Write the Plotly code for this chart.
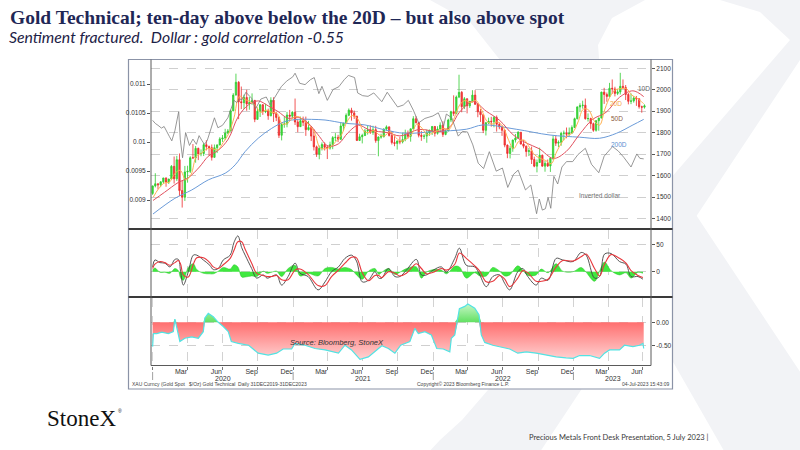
import pandas as pd
import plotly.graph_objects as go

W, H = 800, 450

# ---------------- DATA ----------------
# Weekly gold candles (week starting 2019-12-30 ... 2023-07-03), $/oz
gold_open = [
    1517, 1552, 1562, 1557, 1571, 1589, 1570, 1584, 1643, 1585, 1674, 1530, 1499, 1617, 1620, 1683, 1682, 1727,
    1701, 1703, 1744, 1735, 1730, 1685, 1730, 1743, 1771, 1775, 1798, 1808, 1902, 1975, 2035, 1944, 1940, 1964,
    1934, 1941, 1950, 1862, 1900, 1930, 1899, 1902, 1879, 1951, 1889, 1871, 1788, 1839, 1840, 1882, 1877,
    1895, 1850, 1828, 1856, 1848, 1814, 1824, 1784, 1734, 1700, 1727, 1745, 1732, 1728, 1744, 1777, 1778,
    1769, 1831, 1844, 1881, 1905, 1892, 1877, 1764, 1781, 1787, 1808, 1812, 1802, 1814, 1763, 1780, 1781,
    1817, 1827, 1787, 1754, 1750, 1761, 1757, 1768, 1792, 1783, 1818, 1865, 1846, 1788, 1783, 1784, 1799, 1809,
    1829, 1797, 1817, 1835, 1792, 1808, 1859, 1898, 1889, 1966, 1988, 1921, 1958, 1925, 1946, 1975, 1932,
    1897, 1884, 1811, 1846, 1853, 1851, 1871, 1839, 1827, 1811, 1742, 1703, 1727, 1766, 1775, 1802, 1747,
    1737, 1712, 1716, 1675, 1644, 1661, 1695, 1644, 1657, 1645, 1681, 1771, 1751, 1755, 1797, 1798, 1793, 1798,
    1824, 1865, 1920, 1926, 1928, 1865, 1866, 1842, 1811, 1856, 1868, 1989, 1978, 1969, 2007, 2004, 1983,
    1990, 2016, 2011, 1978, 1946, 1948, 1961, 1958, 1921, 1919]
gold_high = [
    1553, 1611, 1563, 1573, 1589, 1591, 1585, 1649, 1689, 1692, 1703, 1575, 1645, 1646, 1690, 1747, 1738, 1730,
    1722, 1751, 1765, 1740, 1745, 1745, 1745, 1779, 1789, 1818, 1817, 1907, 1984, 2075, 2040, 2015, 1977, 2000,
    1966, 1983, 1953, 1917, 1933, 1933, 1935, 1912, 1965, 1965, 1898, 1875, 1848, 1875, 1897, 1906, 1900,
    1959, 1864, 1875, 1875, 1875, 1855, 1828, 1816, 1740, 1740, 1755, 1755, 1740, 1758, 1784, 1798, 1790,
    1845, 1846, 1890, 1913, 1916, 1903, 1878, 1795, 1795, 1818, 1834, 1834, 1832, 1832, 1782, 1795, 1820,
    1834, 1829, 1808, 1787, 1764, 1781, 1801, 1814, 1810, 1818, 1877, 1877, 1849, 1808, 1793, 1814, 1815, 1831,
    1831, 1830, 1848, 1853, 1812, 1865, 1902, 1974, 1973, 2070, 1994, 1966, 1960, 1948, 1998, 1998, 1936,
    1910, 1886, 1850, 1870, 1874, 1877, 1880, 1848, 1833, 1814, 1745, 1739, 1767, 1794, 1807, 1803,
    1766, 1740, 1729, 1735, 1688, 1675, 1730, 1698, 1668, 1675, 1684, 1787, 1786, 1764, 1804, 1810, 1824, 1824,
    1834, 1870, 1922, 1937, 1949, 1959, 1890, 1870, 1847, 1858, 1870, 1991, 2009, 1987, 2032, 2048, 2014,
    2003, 2079, 2048, 2022, 1985, 1983, 1970, 1971, 1960, 1926, 1932]
gold_low = [
    1510, 1545, 1536, 1546, 1563, 1548, 1561, 1580, 1563, 1575, 1504, 1451, 1482, 1567, 1612, 1680, 1660, 1672,
    1690, 1691, 1717, 1693, 1670, 1683, 1705, 1741, 1757, 1765, 1793, 1806, 1900, 1974, 1863, 1910, 1910, 1902,
    1907, 1930, 1849, 1860, 1873, 1883, 1891, 1860, 1876, 1850, 1854, 1775, 1764, 1823, 1825, 1855, 1866,
    1836, 1802, 1827, 1831, 1785, 1810, 1761, 1717, 1687, 1676, 1717, 1717, 1677, 1721, 1723, 1760, 1756,
    1767, 1808, 1842, 1877, 1856, 1864, 1761, 1761, 1750, 1784, 1791, 1794, 1790, 1753, 1690, 1772, 1778,
    1809, 1782, 1745, 1737, 1721, 1746, 1750, 1760, 1772, 1758, 1816, 1844, 1778, 1762, 1770, 1753, 1785, 1789,
    1782, 1791, 1805, 1780, 1788, 1807, 1849, 1878, 1886, 1961, 1895, 1910, 1890, 1915, 1940, 1930, 1872,
    1850, 1798, 1787, 1840, 1828, 1825, 1805, 1816, 1785, 1732, 1681, 1680, 1711, 1754, 1771, 1745,
    1727, 1688, 1691, 1654, 1639, 1615, 1660, 1642, 1618, 1640, 1617, 1672, 1738, 1733, 1739, 1765, 1774, 1785,
    1795, 1822, 1862, 1896, 1912, 1861, 1852, 1818, 1804, 1805, 1809, 1867, 1934, 1944, 1968, 1981, 1969,
    1975, 1978, 2005, 1952, 1932, 1933, 1940, 1925, 1912, 1893, 1912]
gold_close = [
    1552, 1562, 1557, 1571, 1589, 1570, 1584, 1643, 1585, 1674, 1530, 1499, 1617, 1620, 1683, 1682, 1727, 1701,
    1703, 1744, 1735, 1730, 1685, 1730, 1743, 1771, 1775, 1798, 1808, 1902, 1975, 2035, 1944, 1940, 1964, 1934,
    1941, 1950, 1862, 1900, 1930, 1899, 1902, 1879, 1951, 1889, 1871, 1788, 1839, 1840, 1882, 1877, 1895,
    1850, 1828, 1856, 1848, 1814, 1824, 1784, 1734, 1700, 1727, 1745, 1732, 1728, 1744, 1777, 1778, 1769,
    1831, 1844, 1881, 1905, 1892, 1877, 1764, 1781, 1787, 1808, 1812, 1802, 1814, 1763, 1780, 1781, 1817,
    1827, 1787, 1754, 1750, 1761, 1757, 1768, 1792, 1783, 1818, 1865, 1846, 1788, 1783, 1784, 1799, 1809, 1829,
    1797, 1817, 1835, 1792, 1808, 1859, 1898, 1889, 1966, 1988, 1921, 1958, 1925, 1946, 1975, 1932, 1897,
    1884, 1811, 1846, 1853, 1851, 1871, 1839, 1827, 1811, 1742, 1703, 1727, 1766, 1775, 1802, 1747,
    1737, 1712, 1716, 1675, 1644, 1661, 1695, 1644, 1657, 1645, 1681, 1771, 1751, 1755, 1797, 1798, 1793, 1798,
    1824, 1865, 1920, 1926, 1928, 1865, 1866, 1842, 1811, 1856, 1868, 1989, 1978, 1969, 2007, 2004, 1983, 1990,
    2016, 2011, 1978, 1946, 1948, 1961, 1958, 1921, 1919, 1925]
candle_dates = pd.date_range("2020-01-01", periods=len(gold_close), freq="W-WED")

ma20_dates = [
    "2020-01-03", "2020-01-15", "2020-01-31", "2020-02-14", "2020-02-28", "2020-03-13", "2020-03-27", "2020-04-10",
    "2020-04-24", "2020-05-08", "2020-05-22", "2020-06-05", "2020-06-19", "2020-07-03", "2020-07-17", "2020-07-31",
    "2020-08-14", "2020-08-28", "2020-09-11", "2020-09-25", "2020-10-09", "2020-10-23", "2020-11-06", "2020-11-20",
    "2020-12-04", "2020-12-18", "2021-01-01", "2021-01-15", "2021-01-29", "2021-02-12", "2021-02-26", "2021-03-12",
    "2021-03-26", "2021-04-09", "2021-04-23", "2021-05-07", "2021-05-21", "2021-06-04", "2021-06-18", "2021-07-02",
    "2021-07-16", "2021-07-30", "2021-08-13", "2021-08-27", "2021-09-10", "2021-09-24", "2021-10-08", "2021-10-22",
    "2021-11-05", "2021-11-19", "2021-12-03", "2021-12-17", "2021-12-31", "2022-01-14", "2022-01-28", "2022-02-11",
    "2022-02-25", "2022-03-11", "2022-03-25", "2022-04-08", "2022-04-22", "2022-05-06", "2022-05-20", "2022-06-03",
    "2022-06-17", "2022-07-01", "2022-07-15", "2022-07-29", "2022-08-12", "2022-08-26", "2022-09-09", "2022-09-23",
    "2022-10-07", "2022-10-21", "2022-11-04", "2022-11-18", "2022-12-02", "2022-12-16", "2022-12-30", "2023-01-13",
    "2023-01-27", "2023-02-10", "2023-02-24", "2023-03-10", "2023-03-24", "2023-04-07", "2023-04-21", "2023-05-05",
    "2023-05-19", "2023-06-02", "2023-06-16", "2023-06-30", "2023-07-03"]
ma20 = [
    1500, 1535, 1565, 1570, 1610, 1625, 1580, 1605, 1690, 1705, 1725, 1725, 1720, 1755, 1795, 1870,
    1970, 1955, 1945, 1925, 1895, 1905, 1895, 1890, 1840, 1845, 1870, 1875, 1855, 1835, 1800, 1730,
    1725, 1735, 1760, 1790, 1850, 1880, 1865, 1810, 1800, 1810, 1790, 1785, 1805, 1780, 1760, 1770,
    1790, 1840, 1820, 1790, 1800, 1810, 1820, 1815, 1870, 1930, 1950, 1940, 1950, 1910, 1855, 1840,
    1850, 1830, 1770, 1725, 1760, 1765, 1730, 1695, 1680, 1670, 1655, 1710, 1755, 1785, 1800, 1850,
    1910, 1905, 1855, 1835, 1910, 1970, 2000, 2005, 2005, 1975, 1960, 1940, 1935]

ma50_dates = [
    "2020-01-02", "2020-02-01", "2020-03-08", "2020-04-03", "2020-05-02", "2020-05-25", "2020-06-20", "2020-07-16",
    "2020-08-11", "2020-09-07", "2020-10-02", "2020-10-28", "2020-11-23", "2020-12-19", "2021-01-14", "2021-02-09",
    "2021-03-07", "2021-04-02", "2021-04-29", "2021-05-24", "2021-06-20", "2021-07-16", "2021-08-11", "2021-09-06",
    "2021-10-06", "2021-11-26", "2022-01-17", "2022-02-15", "2022-03-10", "2022-04-14", "2022-05-19", "2022-06-23",
    "2022-07-28", "2022-08-31", "2022-10-04", "2022-11-10", "2022-12-13", "2023-01-16", "2023-02-20", "2023-03-27",
    "2023-05-01", "2023-06-05", "2023-07-03"]
ma50 = [
    1484, 1522, 1568, 1590, 1640, 1690, 1718, 1770, 1875, 1930, 1948, 1925, 1898, 1867, 1872, 1845,
    1790, 1738, 1748, 1800, 1835, 1815, 1805, 1800, 1785, 1815, 1805, 1830, 1895, 1945, 1900, 1857,
    1790, 1752, 1725, 1680, 1712, 1790, 1862, 1895, 1965, 1995, 1968]

ma200_dates = [
    "2020-01-02", "2020-02-28", "2020-04-12", "2020-05-25", "2020-07-08", "2020-08-03", "2020-08-29", "2020-10-02",
    "2020-11-06", "2020-12-11", "2021-01-15", "2021-02-18", "2021-03-25", "2021-05-16", "2021-07-07", "2021-08-28",
    "2021-10-19", "2022-01-01", "2022-03-28", "2022-05-10", "2022-08-05", "2022-11-01", "2023-01-17", "2023-03-10",
    "2023-04-23", "2023-06-05", "2023-07-03"]
ma200 = [
    1421, 1494, 1533, 1580, 1611, 1650, 1712, 1774, 1820, 1852, 1862, 1862, 1859, 1844, 1836, 1813,
    1797, 1805, 1816, 1836, 1816, 1789, 1779, 1774, 1797, 1836, 1862]

# Inverted dollar (1 / DXY), left axis
dollar_dates = [
    "2020-01-01", "2020-01-08", "2020-01-15", "2020-01-24", "2020-01-31", "2020-02-07", "2020-02-14", "2020-02-20",
    "2020-02-28", "2020-03-09", "2020-03-13", "2020-03-19", "2020-03-27", "2020-04-06", "2020-04-15", "2020-04-24",
    "2020-05-01", "2020-05-08", "2020-05-15", "2020-05-22", "2020-05-29", "2020-06-10", "2020-06-19", "2020-07-01",
    "2020-07-15", "2020-07-31", "2020-08-07", "2020-08-14", "2020-08-21", "2020-08-31", "2020-09-15", "2020-09-25",
    "2020-10-09", "2020-10-23", "2020-11-02", "2020-11-16", "2020-11-24", "2020-12-01", "2020-12-15", "2020-12-31",
    "2021-01-06", "2021-01-18", "2021-02-01", "2021-02-15", "2021-02-25", "2021-03-09", "2021-03-17", "2021-03-31",
    "2021-04-15", "2021-04-30", "2021-05-14", "2021-05-25", "2021-06-10", "2021-06-18", "2021-07-01", "2021-07-15",
    "2021-07-30", "2021-08-20", "2021-09-03", "2021-09-17", "2021-09-30", "2021-10-15", "2021-10-28", "2021-11-10",
    "2021-11-24", "2021-12-10", "2021-12-31", "2022-01-14", "2022-01-28", "2022-02-04", "2022-02-18", "2022-03-07",
    "2022-03-18", "2022-03-31", "2022-04-14", "2022-04-28", "2022-05-12", "2022-05-27", "2022-06-14", "2022-06-30",
    "2022-07-14", "2022-07-29", "2022-08-10", "2022-08-29", "2022-09-12", "2022-09-27", "2022-10-04", "2022-10-12",
    "2022-10-20", "2022-10-27", "2022-11-03", "2022-11-11", "2022-11-21", "2022-12-02", "2022-12-14", "2022-12-30",
    "2023-01-13", "2023-02-01", "2023-02-17", "2023-03-08", "2023-03-22", "2023-04-13", "2023-04-28", "2023-05-12",
    "2023-05-31", "2023-06-15", "2023-06-23", "2023-07-03"]
inv_dollar = [
    0.010373, 0.010320, 0.010288, 0.010240, 0.010267, 0.010170, 0.010091, 0.010020,
    0.010194, 0.010526, 0.010050, 0.009728, 0.010163, 0.009940, 0.010050, 0.009960,
    0.010110, 0.010030, 0.009960, 0.010020, 0.010173, 0.010417, 0.010246, 0.010288,
    0.010417, 0.010718, 0.010680, 0.010741, 0.010730, 0.010858, 0.010753, 0.010571,
    0.010741, 0.010776, 0.010638, 0.010799, 0.010870, 0.010953, 0.011050, 0.011123,
    0.011186, 0.011013, 0.010989, 0.011074, 0.011111, 0.010834, 0.010960, 0.010718,
    0.010905, 0.010953, 0.011074, 0.011148, 0.011111, 0.010846, 0.010799, 0.010787,
    0.010846, 0.010695, 0.010858, 0.010730, 0.010604, 0.010638, 0.010718, 0.010549,
    0.010331, 0.010406, 0.010449, 0.010504, 0.010277, 0.010482, 0.010417, 0.010101,
    0.010183, 0.010173, 0.009950, 0.009634, 0.009542, 0.009833, 0.009497, 0.009551,
    0.009217, 0.009443, 0.009515, 0.009174, 0.009259, 0.008764, 0.009017, 0.008826,
    0.008850, 0.009042, 0.008857, 0.009407, 0.009276, 0.009569, 0.009662, 0.009662,
    0.009785, 0.009891, 0.009615, 0.009470, 0.009756, 0.009921, 0.009843, 0.009737,
    0.009569, 0.009794, 0.009718, 0.009709]

# Momentum panel (MACD, signal, histogram)
macd_dates = [
    "2020-01-01", "2020-01-07", "2020-01-20", "2020-02-02", "2020-02-15", "2020-02-28", "2020-03-08", "2020-03-14", "2020-03-21", "2020-04-03",
    "2020-04-16", "2020-04-25", "2020-05-12", "2020-05-29", "2020-06-07", "2020-06-20", "2020-07-03", "2020-07-21", "2020-07-31", "2020-08-10",
    "2020-08-20", "2020-08-29", "2020-09-15", "2020-09-28", "2020-10-15", "2020-10-25", "2020-11-06", "2020-11-19", "2020-12-02", "2020-12-19",
    "2021-01-06", "2021-01-19", "2021-02-09", "2021-03-07", "2021-03-25", "2021-04-11", "2021-04-29", "2021-05-16", "2021-06-02", "2021-06-15",
    "2021-06-30", "2021-07-16", "2021-08-02", "2021-08-12", "2021-08-20", "2021-09-06", "2021-09-23", "2021-10-06", "2021-10-23", "2021-11-18",
    "2021-12-01", "2021-12-14", "2022-01-01", "2022-01-22", "2022-02-04", "2022-02-26", "2022-03-10", "2022-03-28", "2022-04-19", "2022-05-02",
    "2022-05-19", "2022-06-05", "2022-06-23", "2022-07-06", "2022-07-19", "2022-08-09", "2022-08-22", "2022-09-04", "2022-09-26", "2022-10-09",
    "2022-10-27", "2022-11-17", "2022-12-04", "2022-12-31", "2023-01-21", "2023-02-03", "2023-02-25", "2023-03-10", "2023-03-23", "2023-04-09",
    "2023-05-01", "2023-05-18", "2023-05-31", "2023-06-18", "2023-07-01"]
macd = [
    9, 22, 17, 16, 9, 23, 23, 0, -25, 0,
    31, 31, 22, 12, 4, 6, 22, 31, 55, 67,
    45, 31, 6, -12, -6, -12, -9, -6, -25, -9,
    16, -3, -9, -34, -19, 0, 9, 25, 31, 20,
    -19, -16, 0, -12, -12, 6, -9, -9, 3, 23,
    -6, -6, 3, 9, -1, 25, 44, 12, 9, -6,
    -28, -9, -6, -22, -34, 0, 6, -9, -25, -12,
    -16, 25, 22, 19, 36, 31, -12, -9, 33, 34,
    19, 14, -9, -9, -14]
signal = [
    6, 14, 19, 17, 12, 17, 21, 14, -6, -10,
    14, 26, 26, 17, 9, 6, 13, 25, 40, 56,
    56, 42, 16, -3, -7, -9, -9, -7, -15, -15,
    3, 5, -5, -26, -26, -9, 3, 16, 27, 26,
    -2, -17, -7, -7, -11, 0, -3, -8, -3, 15,
    6, -4, -1, 6, 3, 14, 35, 25, 11, 1,
    -19, -18, -7, -14, -28, -12, 2, -2, -18, -18,
    -14, 9, 21, 20, 28, 33, 6, -8, 14, 32,
    25, 16, 2, -7, -11]
hist = [
    3, 7, -1, -1, -3, 6, 2, -12, -16, 8,
    15, 4, -3, -4, -4, 1, 8, 5, 13, 9,
    -10, -10, -8, -9, 1, -3, -1, 1, -9, 6,
    12, -8, -3, -8, 6, 8, 5, 8, 4, -6,
    -14, 1, 6, -5, -1, 6, -5, -1, 6, 9,
    -12, -1, 4, 3, -4, 10, 9, -12, -2, -8,
    -8, 8, 1, -8, -6, 11, 3, -7, -6, 5,
    -2, 15, 1, 0, 8, -1, -18, 1, 18, 2,
    -6, -2, -12, -1, -3]

# Dollar : gold correlation
corr_dates = [
    "2020-01-01", "2020-01-03", "2020-01-12", "2020-01-25", "2020-02-11", "2020-02-24", "2020-02-28", "2020-03-03", "2020-03-12", "2020-03-25",
    "2020-04-12", "2020-04-29", "2020-05-12", "2020-05-16", "2020-05-25", "2020-06-07", "2020-06-20", "2020-07-03", "2020-07-16", "2020-07-24",
    "2020-08-11", "2020-09-07", "2020-10-02", "2020-10-28", "2020-11-19", "2020-12-06", "2020-12-28", "2021-01-06", "2021-02-01", "2021-02-27",
    "2021-03-25", "2021-04-29", "2021-05-16", "2021-06-02", "2021-06-24", "2021-07-16", "2021-08-02", "2021-08-20", "2021-09-06", "2021-09-23",
    "2021-10-08", "2021-11-01", "2021-11-14", "2021-11-23", "2021-12-10", "2021-12-27", "2022-01-10", "2022-01-27", "2022-02-13", "2022-02-17",
    "2022-02-26", "2022-03-06", "2022-03-10", "2022-03-24", "2022-04-01", "2022-04-19", "2022-04-30", "2022-05-06", "2022-05-15", "2022-06-05",
    "2022-06-23", "2022-07-19", "2022-08-09", "2022-08-31", "2022-09-26", "2022-10-22", "2022-11-17", "2022-12-13", "2022-12-31", "2023-01-17",
    "2023-02-12", "2023-03-10", "2023-03-23", "2023-04-05", "2023-05-01", "2023-05-14", "2023-06-05", "2023-06-22", "2023-07-01", "2023-07-03"]
corr = [
    -0.52, -0.24, -0.24, -0.21, -0.24, -0.20, 0.07, -0.06, -0.41, -0.34,
    -0.31, -0.34, -0.20, 0.09, 0.19, 0.12, 0.00, -0.09, -0.20, -0.41,
    -0.45, -0.49, -0.66, -0.70, -0.66, -0.57, -0.57, -0.45, -0.49, -0.56,
    -0.59, -0.66, -0.49, -0.59, -0.79, -0.74, -0.63, -0.50, -0.56, -0.66,
    -0.49, -0.41, -0.13, -0.24, -0.20, -0.27, -0.56, -0.57, -0.63, -0.34,
    -0.27, 0.09, 0.29, 0.34, 0.39, 0.30, 0.16, -0.27, -0.43, -0.49,
    -0.52, -0.57, -0.66, -0.63, -0.66, -0.70, -0.74, -0.76, -0.77, -0.71,
    -0.71, -0.77, -0.66, -0.59, -0.59, -0.49, -0.52, -0.49, -0.45, -0.56]

gold_ticks = [1400, 1500, 1600, 1700, 1800, 1900, 2000, 2100]
dollar_ticks = [0.009, 0.0095, 0.01, 0.0105, 0.011]
dollar_tick_text = ["0.009", "0.0095", "0.01", "0.0105", "0.011"]
month_labels = ["Mar", "Jun", "Sep", "Dec"]
years = ["2020", "2021", "2022", "2023"]

# ---------------- LAYOUT HELPERS ----------------
def px(x):
    return x / W

def py(y):
    return 1 - y / H

def path(points):
    s = "M " + " L ".join(f"{px(x):.4f},{py(y):.4f}" for x, y in points)
    return s + " Z"

X0, X1 = 151, 651
xdom = [px(X0), px(X1)]
d1 = [py(228.5), py(59.5)]
d2 = [py(296.5), py(229.5)]
d3 = [py(365.5), py(297.5)]
xrange = ["2019-12-27 19:00", "2023-07-22"]

tickfont = dict(family="Liberation Sans, Arial", size=6.5, color="#333333")
grid = dict(showgrid=True, gridcolor="#cfcfcf", griddash="dash", gridwidth=0.7)

fig = go.Figure()

# ---- main panel ----
fig.add_trace(go.Scatter(x=dollar_dates, y=inv_dollar, xaxis="x", yaxis="y2", mode="lines",
                         line=dict(color="#7d7d7d", width=0.8), hoverinfo="skip"))
fig.add_trace(go.Candlestick(x=candle_dates, open=gold_open, high=gold_high, low=gold_low, close=gold_close,
                             xaxis="x", yaxis="y", whiskerwidth=0,
                             increasing=dict(line=dict(color="#2ecc2e", width=0.8), fillcolor="#3fdc3f"),
                             decreasing=dict(line=dict(color="#ee2b2b", width=0.8), fillcolor="#f04040")))
fig.add_trace(go.Scatter(x=ma200_dates, y=ma200, xaxis="x", yaxis="y", mode="lines", line_shape="spline",
                         line=dict(color="#6b9bd8", width=1)))
fig.add_trace(go.Scatter(x=ma50_dates, y=ma50, xaxis="x", yaxis="y", mode="lines", line_shape="spline",
                         line=dict(color="#e0505e", width=1)))
fig.add_trace(go.Scatter(x=ma20_dates, y=ma20, xaxis="x", yaxis="y", mode="lines", line_shape="spline",
                         line=dict(color="#ffb050", width=1)))

# ---- momentum panel ----
fig.add_trace(go.Scatter(x=macd_dates, y=hist, xaxis="x2", yaxis="y3", mode="lines", fill="tozeroy",
                         fillcolor="#3fe83f", line=dict(color="#2cc42c", width=0.5), line_shape="spline"))
fig.add_trace(go.Scatter(x=macd_dates, y=macd, xaxis="x2", yaxis="y3", mode="lines", line_shape="spline",
                         line=dict(color="#444444", width=0.9)))
fig.add_trace(go.Scatter(x=macd_dates, y=signal, xaxis="x2", yaxis="y3", mode="lines", line_shape="spline",
                         line=dict(color="#e8383d", width=1.1)))

# ---- correlation panel ----
corr_neg = [min(v, 0) for v in corr]
corr_pos = [max(v, 0) for v in corr]
fig.add_trace(go.Scatter(x=corr_dates, y=corr_neg, xaxis="x3", yaxis="y4", mode="lines", fill="tozeroy",
                         line=dict(width=0), fillgradient=dict(type="vertical", start=-0.92, stop=0,
                                                               colorscale=[[0, "#ffe2e2"], [1, "#ff6f6f"]])))
fig.add_trace(go.Scatter(x=corr_dates, y=corr_pos, xaxis="x3", yaxis="y4", mode="lines", fill="tozeroy",
                         line=dict(width=0), fillgradient=dict(type="vertical", start=0, stop=0.4,
                                                               colorscale=[[0, "#62e062"], [1, "#c9f7c9"]])))
fig.add_trace(go.Scatter(x=corr_dates, y=corr, xaxis="x3", yaxis="y4", mode="lines",
                         line=dict(color="#52e3e3", width=1.2)))

# ---------------- SHAPES ----------------
shapes = []
wm = "#f2f3f6"
shapes.append(dict(type="path", xref="paper", yref="paper", layer="below", line=dict(width=0), fillcolor=wm,
                   path=path([(430, 0), (645, 0), (612, 18), (598, 45), (600, 70), (865, 470), (735, 470),
                              (500, 60), (470, 22)])))
shapes.append(dict(type="path", xref="paper", yref="paper", layer="below", line=dict(width=0), fillcolor=wm,
                   path=path([(720, 0), (800, 0), (800, 60), (528, 470), (412, 470), (440, 440), (462, 420),
                              (790, 40), (760, 12)])))
# chart frame
shapes.append(dict(type="rect", xref="paper", yref="paper", layer="below", x0=px(128.5), x1=px(672.5),
                   y0=py(389), y1=py(59.5), fillcolor="white", line=dict(color="#8b93a7", width=1.2)))
# panel separators
for ys in (229, 297):
    shapes.append(dict(type="line", xref="paper", yref="paper", x0=px(128.5), x1=px(672.5), y0=py(ys), y1=py(ys),
                       line=dict(color="#3a3a3a", width=2)))
# axis frame lines
for xs in (X0, X1):
    shapes.append(dict(type="line", xref="paper", yref="paper", x0=px(xs), x1=px(xs), y0=py(365.5), y1=py(59.5),
                       line=dict(color="#5a5a5a", width=1)))
shapes.append(dict(type="line", xref="paper", yref="paper", x0=px(X0), x1=px(X1), y0=py(365.5), y1=py(365.5),
                   line=dict(color="#5a5a5a", width=1)))
# year separators
for yr in years:
    shapes.append(dict(type="line", xref="x3", yref="paper", x0=f"{yr}-01-01", x1=f"{yr}-01-01",
                       y0=py(372), y1=py(380), line=dict(color="#888888", width=0.8)))

# ---------------- ANNOTATIONS ----------------
ann = []
ann.append(dict(text="<b>Gold Technical; ten-day above below the 20D – but also above spot</b>", x=px(8), y=py(17),
                xref="paper", yref="paper", xanchor="left", yanchor="middle", showarrow=False,
                font=dict(family="Liberation Serif", size=19.5, color="#1f2756")))
ann.append(dict(text="<i>Sentiment fractured.  Dollar : gold correlation -0.55</i>", x=px(7), y=py(37),
                xref="paper", yref="paper", xanchor="left", yanchor="middle", showarrow=False,
                font=dict(family="Lato", size=15.8, color="#1c2146")))
ann.append(dict(text="StoneX", x=px(45), y=py(418),
                xref="paper", yref="paper", xanchor="left", yanchor="middle", showarrow=False,
                font=dict(family="Liberation Serif", size=23, color="#111111")))
ann.append(dict(text="®", x=px(116), y=py(411),
                xref="paper", yref="paper", xanchor="left", yanchor="middle", showarrow=False,
                font=dict(family="Liberation Sans", size=5, color="#111111")))
ann.append(dict(text="Precious Metals Front Desk Presentation, 5 July 2023 |", x=px(711), y=py(437),
                xref="paper", yref="paper", xanchor="right", yanchor="middle", showarrow=False,
                font=dict(family="Lato", size=7.5, color="#3a3a3a")))
# series labels
for txt, xx, yy, col in [("10D", 644, 88, "#666666"), ("20D", 616, 103, "#f4a640"), ("50D", 617, 118, "#8a5a40"),
                         ("200D", 619, 144, "#5b8fd0"), ("Inverted dollar", 600, 196, "#707070")]:
    ann.append(dict(text=txt, x=px(xx), y=py(yy), xref="paper", yref="paper", showarrow=False,
                    xanchor="center", yanchor="middle", font=dict(family="Liberation Sans", size=6.5, color=col)))
ann.append(dict(text="<i>Source: Bloomberg, StoneX</i>", x=px(337), y=py(342), xref="paper", yref="paper",
                showarrow=False, xanchor="center", yanchor="middle",
                font=dict(family="Liberation Sans", size=7.5, color="#333333")))
# footer inside frame
ann.append(dict(text="XAU Curncy (Gold Spot   $/Oz) Gold Technical  Daily 31DEC2019-31DEC2023", x=px(130), y=py(383.5),
                xref="paper", yref="paper", xanchor="left", yanchor="middle", showarrow=False,
                font=dict(family="Liberation Sans", size=5, color="#444444")))
ann.append(dict(text="Copyright© 2023 Bloomberg Finance L.P.", x=px(415), y=py(383.5),
                xref="paper", yref="paper", xanchor="left", yanchor="middle", showarrow=False,
                font=dict(family="Liberation Sans", size=5, color="#444444")))
ann.append(dict(text="04-Jul-2023 15:43:09", x=px(671), y=py(383.5),
                xref="paper", yref="paper", xanchor="right", yanchor="middle", showarrow=False,
                font=dict(family="Liberation Sans", size=5, color="#444444")))
# year labels
year_pos = ["2020-07-01", "2021-07-02", "2022-07-02", "2023-04-13"]
for yr, xp in zip(years, year_pos):
    ann.append(dict(text=yr, x=xp, y=py(378.5), xref="x3", yref="paper", showarrow=False,
                    xanchor="center", yanchor="middle", font=dict(family="Liberation Sans", size=7, color="#333333")))

month_ticks = pd.date_range("2020-03-01", "2023-06-01", freq="3MS") + pd.Timedelta(days=14)
month_text = [month_labels[i % 4] for i in range(len(month_ticks))]

minor_grid = dict(dtick="M3", tick0="2020-01-01", showgrid=True, gridcolor="#d2d2d2", griddash="dash", gridwidth=0.7)

fig.update_layout(
    width=W, height=H, margin=dict(l=0, r=0, t=0, b=0),
    paper_bgcolor="white", plot_bgcolor="rgba(0,0,0,0)", showlegend=False, hovermode=False,
    shapes=shapes, annotations=ann,
    xaxis=dict(domain=xdom, anchor="y", range=xrange, type="date", showticklabels=False, showgrid=False,
               rangeslider=dict(visible=False), matches="x3", zeroline=False),
    xaxis2=dict(domain=xdom, anchor="y3", range=xrange, type="date", showticklabels=False, showgrid=False,
                matches="x3", minor=minor_grid, zeroline=False),
    xaxis3=dict(domain=xdom, anchor="y4", range=xrange, type="date", tickvals=month_ticks, ticktext=month_text,
                ticks="", showgrid=False, tickfont=dict(family="Liberation Sans", size=7, color="#333333"),
                minor=dict(minor_grid, ticks="outside", ticklen=3, tickcolor="#777777"), zeroline=False,
                rangeslider=dict(visible=False)),
    yaxis=dict(domain=d1, anchor="x", side="right", range=[1353.4, 2141], tickvals=gold_ticks,
               ticks="outside", ticklen=3, tickcolor="#555555", tickfont=tickfont, zeroline=False, **grid),
    yaxis2=dict(domain=d1, anchor="x", overlaying="y", side="left", range=[0.0085086, 0.0114224],
                tickvals=dollar_ticks, ticktext=dollar_tick_text, ticks="outside", ticklen=3,
                tickcolor="#555555", tickfont=tickfont, showgrid=False, zeroline=False),
    yaxis3=dict(domain=d2, anchor="x2", side="right", range=[-46.4, 79], tickvals=[0, 50],
                ticks="outside", ticklen=3, tickcolor="#555555", tickfont=tickfont, zeroline=False, **grid),
    yaxis4=dict(domain=d3, anchor="x3", side="right", range=[-0.923, 0.53], tickvals=[0, -0.5],
                ticktext=["0.00", "-0.50"], ticks="outside", ticklen=3, tickcolor="#555555", tickfont=tickfont,
                zeroline=False, **grid),
)

fig.write_html("out.html", config={"displayModeBar": False},
               post_script="document.body.style.margin='0';document.body.style.padding='0';")
